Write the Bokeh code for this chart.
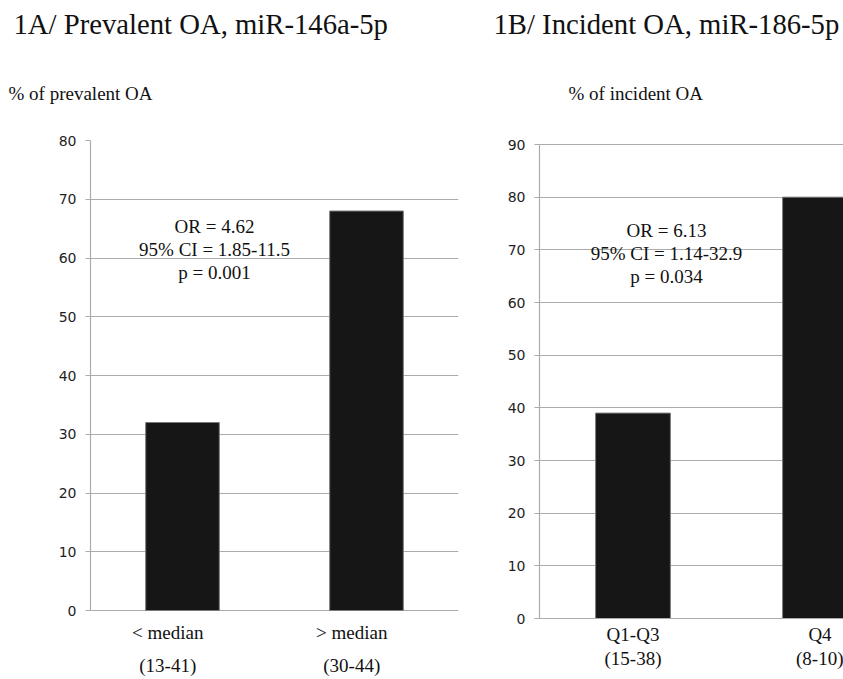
from bokeh.plotting import figure
from bokeh.models import FixedTicker, LinearAxis, Title, Range1d, ColumnDataSource
from bokeh.layouts import row
from bokeh.embed import file_html
from bokeh.resources import INLINE
from bokeh.core.properties import value

# ---------------- data ----------------
a_title = "1A/ Prevalent OA, miR-146a-5p"
a_ylabel = "% of prevalent OA"
a_categories = ["< median", "> median"]
a_groups = ["(13-41)", "(30-44)"]
a_values = [32, 68]
a_yticks = [0, 10, 20, 30, 40, 50, 60, 70, 80]
a_stats = ["OR = 4.62", "95% CI = 1.85-11.5", "p = 0.001"]

b_title = "1B/ Incident OA, miR-186-5p"
b_ylabel = "% of incident OA"
b_categories = ["Q1-Q3", "Q4"]
b_groups = ["(15-38)", "(8-10)"]
b_values = [39, 80]
b_yticks = [0, 10, 20, 30, 40, 50, 60, 70, 80, 90]
b_stats = ["OR = 6.13", "95% CI = 1.14-32.9", "p = 0.034"]

SERIF = "Liberation Serif"
SANS = "DejaVu Sans"
GRID = "#ababab"
INK = "#111111"

HEIGHT = 679
FRAME_TOP = 140      # shared frame (row aligns frames)
FRAME_BOTTOM = 618


def panel(title, ylabel, cats, groups, vals, yticks, stats, *,
          width, b_left, b_right, cat_px, y0_px, ytop_px,
          label_shift, stats_x, stats_y, title_off, ylabel_off,
          std1, std2, show_xline):
    frame_w = width - b_left - b_right
    ymax = yticks[-1]
    px_per_unit = (y0_px - ytop_px) / ymax
    y_start = -(FRAME_BOTTOM - y0_px) / px_per_unit
    y_end = ymax + (ytop_px - FRAME_TOP) / px_per_unit
    xmax = frame_w / cat_px

    p = figure(width=width, height=HEIGHT, output_backend="svg",
               toolbar_location=None, x_range=Range1d(0, xmax),
               y_range=Range1d(y_start, y_end),
               min_border_left=b_left, min_border_right=b_right,
               min_border_top=FRAME_TOP,
               min_border_bottom=HEIGHT - FRAME_BOTTOM)
    p.outline_line_color = None
    p.background_fill_color = "white"
    p.border_fill_color = "white"
    p.xgrid.visible = False
    p.ygrid.grid_line_color = GRID
    p.ygrid.grid_line_width = 1.2
    p.ygrid.ticker = FixedTicker(ticks=yticks)

    xs = [i + 0.5 for i in range(len(cats))]
    src = ColumnDataSource(dict(x=xs, top=vals))
    p.vbar(x="x", top="top", width=0.4, bottom=0, source=src,
           fill_color="#161616", line_color="#7a7a7a", line_width=1)

    # y axis
    ya = p.yaxis[0]
    ya.ticker = FixedTicker(ticks=yticks)
    ya.bounds = (0, ymax)
    ya.minor_tick_line_color = None
    ya.major_tick_out = 5
    ya.major_tick_in = 0
    ya.axis_line_color = GRID
    ya.axis_line_width = 1.2
    ya.major_tick_line_color = GRID
    ya.major_tick_line_width = 1.2
    ya.major_label_text_font = SANS
    ya.major_label_text_font_size = "14px"
    ya.major_label_text_color = "#1e1e1e"
    ya.major_label_standoff = 9

    # x axes: two lines of category labels
    ticks = [x + label_shift for x in xs]
    xa = p.xaxis[0]
    xa.ticker = FixedTicker(ticks=ticks)
    xa.major_label_overrides = {t: c for t, c in zip(ticks, cats)}
    xa2 = LinearAxis(ticker=FixedTicker(ticks=ticks),
                     major_label_overrides={t: g for t, g in zip(ticks, groups)})
    p.add_layout(xa2, "below")
    for i, ax in enumerate([xa, xa2]):
        ax.axis_line_color = GRID if (i == 0 and show_xline) else None
        ax.axis_line_width = 1.2
        ax.major_tick_line_color = None
        ax.minor_tick_line_color = None
        ax.major_tick_out = 0
        ax.major_tick_in = 0
        ax.major_label_text_font = SERIF
        ax.major_label_text_font_size = "19px"
        ax.major_label_text_color = INK
    xa.major_label_standoff = std1
    xa2.major_label_standoff = std2

    # statistics annotation
    step = 23 / px_per_unit
    ssrc = ColumnDataSource(dict(x=[stats_x] * len(stats),
                                 y=[stats_y - k * step for k in range(len(stats))],
                                 t=stats))
    p.text(x="x", y="y", text="t", source=ssrc, text_align="center",
           text_baseline="alphabetic", text_font=value(SERIF),
           text_font_size="19px", text_color=INK)

    # y label (closest to frame) then main title above it
    p.add_layout(Title(text=ylabel, align="left", offset=ylabel_off,
                       text_font=SERIF, text_font_size="19px",
                       text_font_style="normal", text_color=INK,
                       standoff=74), "above")
    p.add_layout(Title(text=title, align="left", offset=title_off,
                       text_font=SERIF, text_font_size="28.7px",
                       text_font_style="normal", text_color=INK,
                       standoff=8), "above")
    return p


pa = panel(a_title, a_ylabel, a_categories, a_groups, a_values, a_yticks, a_stats,
           width=460, b_left=90, b_right=2, cat_px=184, y0_px=610, ytop_px=140,
           label_shift=-0.08, stats_x=0.674, stats_y=65.4,
           title_off=-77, ylabel_off=-82, std1=3, std2=9, show_xline=False)

pb = panel(b_title, b_ylabel, b_categories, b_groups, b_values, b_yticks, b_stats,
           width=383, b_left=79, b_right=0, cat_px=187, y0_px=618, ytop_px=144,
           label_shift=0.0, stats_x=0.679, stats_y=73.6,
           title_off=-46, ylabel_off=29, std1=5, std2=0, show_xline=True)

layout = row(pa, pb)
open("out.html", "w").write(file_html(layout, INLINE))
